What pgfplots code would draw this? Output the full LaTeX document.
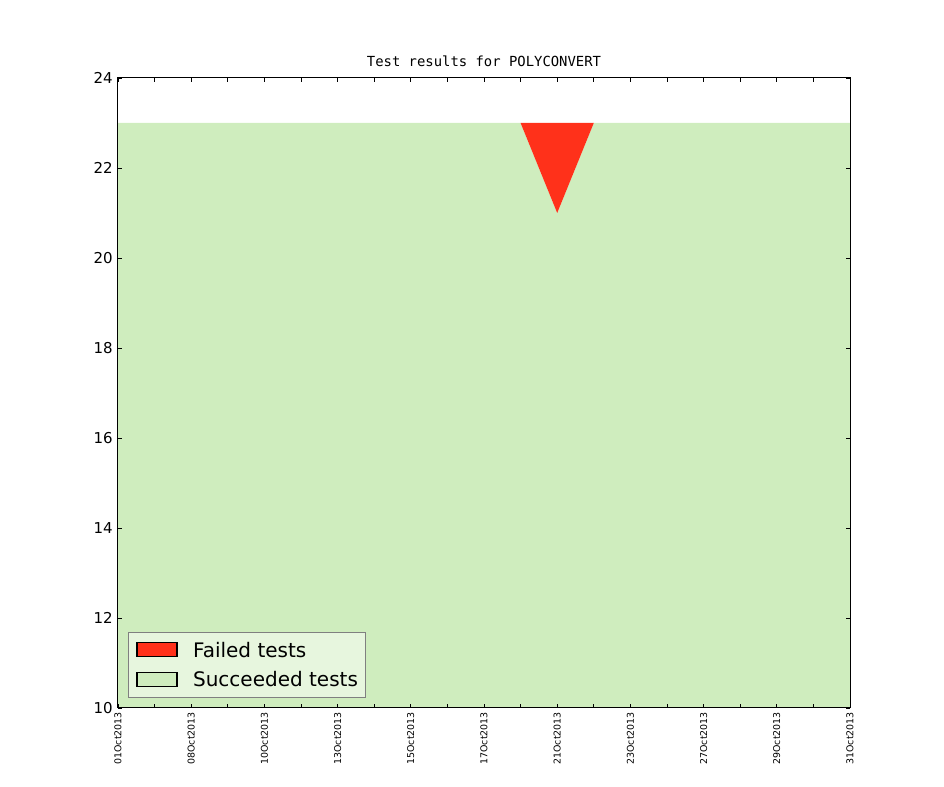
\documentclass[border=0pt]{standalone}
\usepackage{pgfplots}
\pgfplotsset{compat=1.18}
\usepackage{fontspec}
\setmainfont{DejaVu Sans}
\setmonofont{DejaVu Sans Mono}
\definecolor{failred}{RGB}{255,49,26}
\definecolor{succgreen}{RGB}{207,237,190}
\definecolor{legfill}{RGB}{231,246,222}
\begin{document}
\begin{tikzpicture}
\path[use as bounding box] (-106.2pt,-71.1pt) rectangle ++(849.6pt,708.3pt);
\begin{axis}[
  at={(0,0)}, anchor=south west,
  scale only axis, width=658.8pt, height=567pt,
  xmin=0, xmax=20, ymin=10, ymax=24,
  axis on top,
  axis line style={line width=0.9pt},
  tick style={line width=0.8pt, black},
  tick align=inside,
  major tick length=4pt,
  xtick={0,...,20},
  xticklabels={01Oct2013,,08Oct2013,,10Oct2013,,13Oct2013,,15Oct2013,,17Oct2013,,21Oct2013,,23Oct2013,,27Oct2013,,29Oct2013,,31Oct2013},
  xticklabel style={rotate=90, anchor=east, inner sep=0pt, xshift=-3.6pt, font=\fontsize{8.5}{10}\selectfont},
  ytick={10,12,...,24},
  yticklabel style={anchor=east, inner sep=0pt, xshift=-4.5pt, font=\fontsize{13.5}{15}\selectfont},
  /pgf/number format/assume math mode=true,
  title={\ttfamily Test results for POLYCONVERT},
  title style={at={(0.5,1)}, anchor=base, yshift=4.5pt, font=\fontsize{12.5}{14}\selectfont, inner sep=0pt},
  reverse legend,
  legend cell align=left,
  legend style={at={(0.01366,0.01587)}, anchor=south west, draw=gray, line width=0.9pt, fill=legfill,
    font=\fontsize{18}{18}\selectfont, inner xsep=7.2pt, inner ysep=9.2pt, row sep=13.1pt, column sep=0pt,
    nodes={inner sep=0pt, text height=13pt, text depth=0pt}},
  legend image code/.code={\draw[#1, draw=black, line width=1.1pt] (0pt,-6.3pt) rectangle (36pt,6.3pt); \path (50.4pt,0pt);},
]
% Succeeded tests (bottom of the stack)
\addplot[fill=succgreen, draw=none] coordinates {
(0,23) (1,23) (2,23) (3,23) (4,23) (5,23) (6,23) (7,23) (8,23) (9,23) (10,23)
(11,23) (12,21) (13,23) (14,23) (15,23) (16,23) (17,23) (18,23) (19,23) (20,23)
} \closedcycle;
\addlegendentry{Succeeded tests}
% Failed tests (stacked on top): failed = 2 on 21Oct2013, 0 elsewhere
\addplot[fill=failred, draw=none] coordinates {
(11,23) (12,21) (13,23) (12,23)
} -- cycle;
\addlegendentry{Failed tests}
\end{axis}
\end{tikzpicture}
\end{document}
